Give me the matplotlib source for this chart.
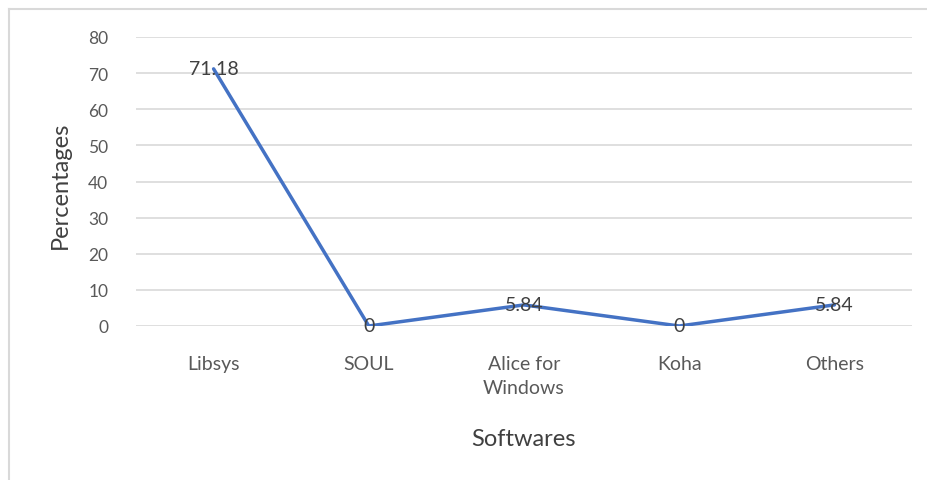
import matplotlib.pyplot as plt
from matplotlib.lines import Line2D

softwares = ["Libsys", "SOUL", "Alice for\nWindows", "Koha", "Others"]
percentages = [71.18, 0, 5.84, 0, 5.84]
value_labels = ["71.18", "0", "5.84", "0", "5.84"]
y_ticks = [0, 10, 20, 30, 40, 50, 60, 70, 80]

plt.rcParams['font.family'] = ['Lato', 'DejaVu Sans']

W, H = 927, 481
fig = plt.figure(figsize=(W / 100, H / 100), dpi=100)
ax = fig.add_axes([136 / W, 1 - 327 / H, (912 - 136) / W, (327 - 38) / H])

x = list(range(len(softwares)))
ax.plot(x, percentages, color='#4472C4', linewidth=2.5, solid_capstyle='round', zorder=3)

# data labels centered on the points
for xi, yi, lab in zip(x, percentages, value_labels):
    ax.text(xi, yi, lab, ha='center', va='center', fontsize=14, color='#404040', zorder=4)

ax.set_xlim(-0.5, len(softwares) - 0.5)
ax.set_ylim(0, 80)
ax.set_yticks(y_ticks)
ax.set_xticks(x)
ax.set_xticklabels(softwares, linespacing=1.5)
ax.yaxis.grid(True, color='#D9D9D9', linewidth=1.2)
ax.set_axisbelow(True)
for s in ax.spines.values():
    s.set_visible(False)
ax.tick_params(axis='both', length=0, colors='#595959')
ax.tick_params(axis='y', pad=20, labelsize=12.5)
ax.tick_params(axis='x', pad=21, labelsize=14)

fig.text(60 / W, 1 - 185 / H, "Percentages", rotation=90, ha='center', va='center',
         fontsize=17, color='#404040')
fig.text(523 / W, 1 - 440 / H, "Softwares", ha='center', va='center',
         fontsize=17, color='#404040')

# light frame around the chart (top and left visible)
fig.add_artist(Line2D([9 / W, 9 / W], [0, 1 - 10 / H], transform=fig.transFigure,
                      color='#D9D9D9', linewidth=1.5))
fig.add_artist(Line2D([9 / W, 1], [1 - 10 / H, 1 - 10 / H], transform=fig.transFigure,
                      color='#D9D9D9', linewidth=1.5))

fig.savefig("out.png", dpi=100)
